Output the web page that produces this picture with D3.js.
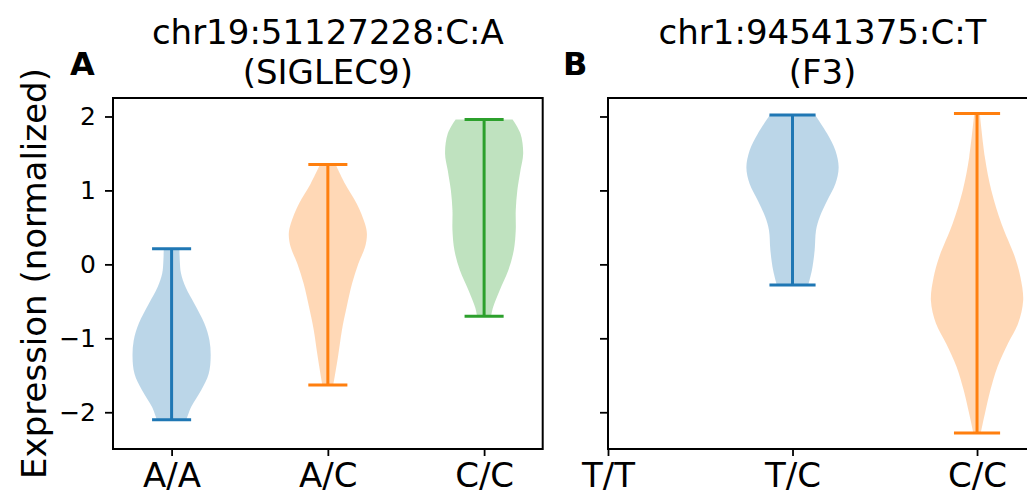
<!DOCTYPE html>
<html>
<head>
<meta charset="utf-8">
<script src="https://cdn.jsdelivr.net/npm/d3@7"></script>
<style>
  body { margin: 0; background: #fff; overflow: hidden; }
  text { font-family: "DejaVu Sans", sans-serif; fill: #000; }
</style>
</head>
<body>
<div id="container"></div>
<script>
// panel A: chr19:51127228:C:A (SIGLEC9)
const genotypesA = ['A/A', 'A/C', 'C/C'];
// panel B: chr1:94541375:C:T (F3), no T/T samples
const genotypesB = ['T/T', 'T/C', 'C/C'];
const yTicks = [-2, -1, 0, 1, 2];

// violin outlines: [expression, relative density]
const violinAA = [[0.21, 0.20], [0.05, 0.21], [-0.12, 0.24], [-0.31, 0.36], [-0.53, 0.58], [-0.8, 0.84], [-1.03, 0.97], [-1.25, 1.0], [-1.48, 0.95], [-1.7, 0.76], [-1.93, 0.5], [-2.1, 0.38]];
const violinAC = [[1.35, 0.2], [1.09, 0.44], [0.82, 0.74], [0.55, 0.95], [0.41, 1.0], [0.23, 0.95], [0.01, 0.78], [-0.26, 0.62], [-0.58, 0.48], [-0.89, 0.36], [-1.25, 0.26], [-1.63, 0.14]];
const violinCC = [[1.96, 0.73], [1.77, 0.93], [1.5, 1.0], [1.27, 0.93], [1.0, 0.85], [0.73, 0.81], [0.46, 0.81], [0.19, 0.76], [-0.08, 0.62], [-0.35, 0.4], [-0.58, 0.23], [-0.7, 0.18]];
const violinTC = [[2.02, 0.49], [1.77, 0.75], [1.54, 0.93], [1.31, 1.0], [1.09, 0.93], [0.86, 0.75], [0.64, 0.59], [0.46, 0.51], [0.19, 0.48], [-0.08, 0.42], [-0.28, 0.34]];
const violinCC2 = [[2.04, 0.06], [1.45, 0.17], [1.0, 0.31], [0.55, 0.53], [0.1, 0.82], [-0.17, 0.94], [-0.49, 1.0], [-0.8, 0.89], [-1.07, 0.67], [-1.39, 0.44], [-1.7, 0.29], [-2.02, 0.17], [-2.28, 0.08]];

const colors = ['#1f77b4', '#ff7f0e', '#2ca02c'];

const w = 1027;
const h = 497;
const plotTop = 98;
const plotBottom = 449;

const svg = d3.select('#container')
              .append('svg')
              .attr('width', w)
              .attr('height', h);

const yScale = d3.scaleLinear()
                 .domain([-2.497, 2.25])
                 .range([plotBottom, plotTop]);

const panels = [
  { left: 113, right: 542.7, domain: [0.625, 3.375], labels: genotypesA, letter: 'A',
    title: ['chr19:51127228:C:A', '(SIGLEC9)'], showY: true,
    violins: [{ pos: 1, c: 0, pts: violinAA }, { pos: 2, c: 1, pts: violinAC }, { pos: 3, c: 2, pts: violinCC }] },
  { left: 608, right: 1037, domain: [1, 3.325], labels: genotypesB, letter: 'B',
    title: ['chr1:94541375:C:T', '(F3)'], showY: false,
    violins: [{ pos: 2, c: 0, pts: violinTC }, { pos: 3, c: 1, pts: violinCC2 }] }
];

panels.forEach((p) => {
  const xScale = d3.scaleLinear().domain(p.domain).range([p.left, p.right]);
  const g = svg.append('g');

  // violins
  p.violins.forEach((v) => {
    const half = xScale(v.pos + 0.25) - xScale(v.pos);
    const capHalf = xScale(v.pos + 0.125) - xScale(v.pos);
    const area = d3.area()
                   .y((d) => yScale(d[0]))
                   .x0((d) => xScale(v.pos) - d[1] * half)
                   .x1((d) => xScale(v.pos) + d[1] * half)
                   .curve(d3.curveCatmullRom);
    g.append('path')
     .attr('d', area(v.pts))
     .attr('fill', colors[v.c])
     .attr('fill-opacity', 0.3);

    const vmax = v.pts[0][0];
    const vmin = v.pts[v.pts.length - 1][0];
    const cx = xScale(v.pos);
    g.append('line')
     .attr('x1', cx).attr('x2', cx)
     .attr('y1', yScale(vmax)).attr('y2', yScale(vmin))
     .attr('stroke', colors[v.c]).attr('stroke-width', 3);
    [vmax, vmin].forEach((val) => {
      g.append('line')
       .attr('x1', cx - capHalf).attr('x2', cx + capHalf)
       .attr('y1', yScale(val)).attr('y2', yScale(val))
       .attr('stroke', colors[v.c]).attr('stroke-width', 3);
    });
  });

  // axes
  const xAxis = d3.axisBottom(xScale)
                  .tickValues([1, 2, 3])
                  .tickFormat((d, i) => p.labels[i])
                  .tickSizeOuter(0)
                  .tickSize(7)
                  .tickPadding(5);
  g.append('g')
   .attr('transform', 'translate(0,' + plotBottom + ')')
   .call(xAxis)
   .call((a) => a.select('.domain').remove())
   .call((a) => a.selectAll('line').attr('stroke-width', 1.8))
   .call((a) => a.selectAll('text').attr('font-size', 34).attr('font-family', 'DejaVu Sans').attr('dy', '0.76em'));

  const yAxis = d3.axisLeft(yScale)
                  .tickValues(yTicks)
                  .tickFormat(p.showY ? (d) => d3.format('d')(d).replace('-', '\u2212') : '')
                  .tickSizeOuter(0)
                  .tickSize(8)
                  .tickPadding(9);
  g.append('g')
   .attr('transform', 'translate(' + p.left + ',0)')
   .call(yAxis)
   .call((a) => a.select('.domain').remove())
   .call((a) => a.selectAll('line').attr('stroke-width', 1.8))
   .call((a) => a.selectAll('text').attr('font-size', 25).attr('font-family', 'DejaVu Sans'));

  // frame
  g.append('rect')
   .attr('x', p.left).attr('y', plotTop)
   .attr('width', p.right - p.left).attr('height', plotBottom - plotTop)
   .attr('fill', 'none').attr('stroke', '#000').attr('stroke-width', 2);

  const mid = (p.left + p.right) / 2;
  svg.append('text')
     .attr('x', mid).attr('y', 44)
     .attr('text-anchor', 'middle')
     .attr('font-size', 34)
     .text(p.title[0]);
  svg.append('text')
     .attr('x', mid).attr('y', 84)
     .attr('text-anchor', 'middle')
     .attr('font-size', 34)
     .text(p.title[1]);

  svg.append('text')
     .attr('x', p.left - (p.showY ? 43 : 45)).attr('y', 75)
     .attr('font-size', 32)
     .attr('font-weight', 'bold')
     .text(p.letter);
});

svg.append('text')
   .attr('transform', 'translate(46,' + (plotTop + plotBottom) / 2 + ') rotate(-90)')
   .attr('text-anchor', 'middle')
   .attr('font-size', 34)
   .text('Expression (normalized)');
</script>
</body>
</html>
